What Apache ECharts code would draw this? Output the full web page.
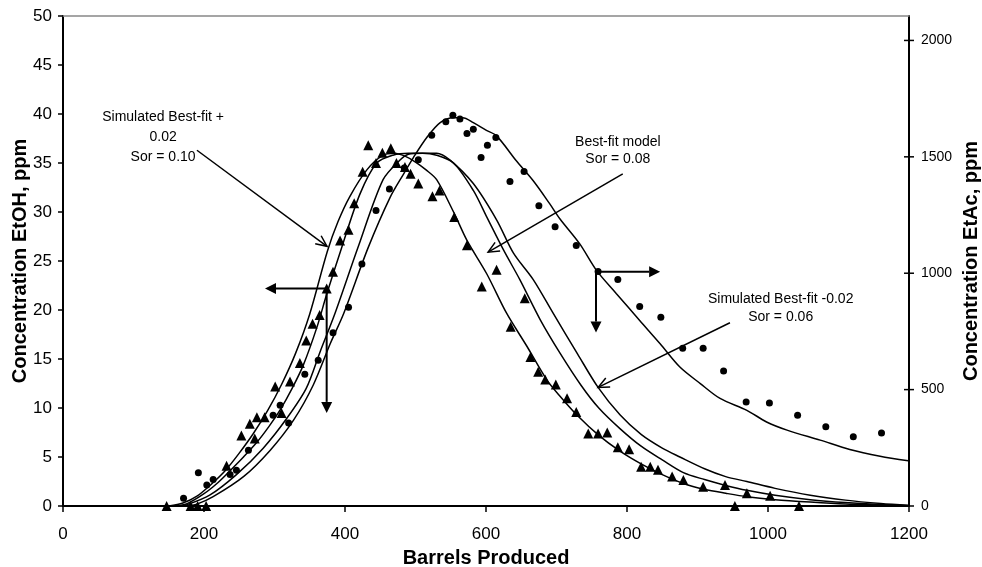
<!DOCTYPE html>
<html><head><meta charset="utf-8">
<script src="https://cdn.jsdelivr.net/npm/echarts@6/dist/echarts.min.js"></script>
<style>html,body{margin:0;padding:0;background:#fff}#c{width:982px;height:567px}</style>
</head><body><div id="c"></div>
<script>
// ---- tick labels ----
const xTickValues = [0,200,400,600,800,1000,1200];
const leftTickValues = [0,5,10,15,20,25,30,35,40,45,50];
const rightTickValues = [0,500,1000,1500,2000];

// ---- EtOH data (triangles, left axis) ----
const triX = [147,181,191,203,232,253,265,272,275,286,301,310,322,336,345,354,364,374,383,393,405,413,425,433,444,453,465,473,485,493,504,524,534,555,573,594,615,635,655,663,674,684,699,715,728,745,759,772,787,803,820,833,844,864,880,908,939,953,970,1003,1044];
const triY = [0,0,0,0,4.1,7.2,8.4,6.9,9.05,9.05,12.2,9.5,12.7,14.6,16.9,18.6,19.5,22.2,23.9,27.1,28.2,30.9,34.1,36.8,35.0,36.05,36.5,35.0,34.6,33.9,32.9,31.6,32.2,29.5,26.6,22.4,24.1,18.3,21.2,15.2,13.7,12.9,12.4,11.0,9.6,7.4,7.4,7.5,6.0,5.8,4.0,4.0,3.7,3.0,2.65,1.97,2.14,0,1.3,1.05,0];

// ---- EtAc data (circles, right axis) ----
const cirX = [171,192,204,213,237,246,263,298,308,320,343,362,383,405,424,444,463,484,504,523,543,553,563,573,582,593,602,614,634,654,675,698,728,759,787,818,848,879,908,937,969,1002,1042,1082,1121,1161];
const cirY = [33,143,90,114,135,154,240,390,433,357,566,626,744,854,1040,1269,1362,1452,1487,1593,1651,1679,1662,1600,1619,1497,1550,1583,1394,1437,1290,1200,1119,1007,973,857,811,678,678,580,447,443,390,340,297,314];

// ---- simulated EtOH, Sor = 0.10 ----
const s010X = [150,170,190,210,230,250,270,290,310,330,350,375,390,407,431,454,470,485,500,515,530,554,573,601,629,658,686,705,730,760,790,820,850,880,910,940,970,1010,1060,1110,1160,1200];
const s010Y = [0,0.3,1.0,2.2,3.6,5.4,7.4,9.7,12.4,15.6,19.6,26.0,29.0,31.6,34.3,35.8,36.0,35.7,35.1,34.3,33.3,30.0,27.1,23.7,19.7,16.3,12.9,11.2,9.2,7.2,5.6,4.3,3.2,2.3,1.7,1.3,0.95,0.65,0.4,0.2,0.1,0.02];

// ---- best-fit EtOH, Sor = 0.08 ----
const s008X = [160,175,199,220,237,256,275,292,308,325,341,360,374,395,421,445,468,490,510,530,554,582,601,625,648,677,705,735,760,790,820,850,880,910,940,970,1010,1060,1110,1160,1200];
const s008Y = [0,0.2,1.2,2.4,3.6,5.0,6.5,8.1,9.8,12.0,14.4,18.2,21.6,26.3,31.8,35.0,35.8,36.0,36.0,35.8,35.0,32.2,29.5,26.1,23.1,19.0,15.6,12.3,10.0,7.9,6.1,4.7,3.4,2.7,2.1,1.6,1.1,0.65,0.35,0.15,0.05];

// ---- simulated EtOH, Sor = 0.06 ----
const s006X = [165,175,208,246,284,317,345,365,386,419,454,478,490,510,530,549,582,615,639,667,695,730,759,790,820,850,875,910,940,970,1010,1060,1110,1160,1200];
const s006Y = [0,0.1,1.1,3.2,5.9,8.9,12.0,15.8,19.7,26.5,33.3,35.3,35.9,36.0,36.0,35.3,32.9,29.2,25.8,23.1,19.7,15.5,12.1,9.3,7.3,5.9,5.0,3.8,3.0,2.5,1.8,1.1,0.6,0.25,0.05];

// ---- model EtAc (right axis) ----
const acX = [175,190,213,256,294,327,355,379,398,433,464,483,497,516,535,554,567,582,600,615,643,667,690,705,733,757,785,818,847,875,904,932,970,998,1027,1074,1116,1159,1199];
const acY = [0,8,40,126,240,369,520,697,826,1111,1326,1426,1497,1583,1647,1668,1668,1647,1615,1590,1483,1397,1300,1233,1126,1011,912,797,697,597,526,462,411,361,326,283,243,214,194];

const zip = (a, b) => a.map((v, i) => [v, b[i]]);
const FONT = '"Liberation Sans", Arial, sans-serif';
const plain = v => String(v);
const rightLabel = v => (rightTickValues.indexOf(v) >= 0 ? String(v) : '');

const chart = echarts.init(document.getElementById('c'), null, {renderer: 'canvas'});

const lineSeries = (name, xs, ys, yIdx) => ({
  name, type: 'line', xAxisIndex: 0, yAxisIndex: yIdx, data: zip(xs, ys),
  showSymbol: false, smooth: 0.3, silent: true,
  lineStyle: {color: '#000', width: 1.5}, z: 3
});

chart.setOption({
  animation: false,
  backgroundColor: '#fff',
  grid: {left: 63, right: 73, top: 16, bottom: 61, containLabel: false, outerBoundsMode: 'none'},
  xAxis: [{
    type: 'value', min: 0, max: 1200, interval: 200, position: 'bottom',
    axisLine: {show: true, onZero: false, lineStyle: {color: '#000', width: 2}},
    axisTick: {show: true, inside: false, length: 6, lineStyle: {color: '#000', width: 1.5}},
    axisLabel: {color: '#000', fontSize: 17, fontFamily: FONT, margin: 20, formatter: plain},
    splitLine: {show: false},
    name: 'Barrels Produced', nameLocation: 'middle', nameGap: 42, nameMoveOverlap: false,
    nameTextStyle: {color: '#000', fontSize: 20, fontWeight: 'bold', fontFamily: FONT}
  }, {
    type: 'value', min: 0, max: 1200, position: 'top',
    axisLine: {show: true, onZero: false, lineStyle: {color: '#888', width: 1.5}},
    axisTick: {show: false}, axisLabel: {show: false}, splitLine: {show: false}
  }],
  yAxis: [{
    type: 'value', min: 0, max: 50, interval: 5, position: 'left',
    axisLine: {show: true, onZero: false, lineStyle: {color: '#000', width: 2}},
    axisTick: {show: true, inside: false, length: 5, lineStyle: {color: '#000', width: 1.5}},
    axisLabel: {color: '#000', fontSize: 17, fontFamily: FONT, margin: 11, formatter: plain},
    splitLine: {show: false},
    name: 'Concentration EtOH, ppm', nameLocation: 'middle', nameGap: 33, nameRotate: 90, nameMoveOverlap: false,
    nameTextStyle: {color: '#000', fontSize: 20, fontWeight: 'bold', fontFamily: FONT}
  }, {
    type: 'value', min: 0, max: 2105, interval: 500, position: 'right',
    axisLine: {show: true, onZero: false, lineStyle: {color: '#000', width: 2}},
    axisTick: {show: false},
    axisLabel: {color: '#000', fontSize: 14, fontFamily: FONT, margin: 12, formatter: rightLabel, showMaxLabel: false},
    splitLine: {show: false},
    name: 'Concentration EtAc, ppm', nameLocation: 'middle', nameGap: 52, nameRotate: 90, nameMoveOverlap: false,
    nameTextStyle: {color: '#000', fontSize: 20, fontWeight: 'bold', fontFamily: FONT}
  }],
  series: [
    lineSeries('Sor 0.10', s010X, s010Y, 0),
    lineSeries('Sor 0.08', s008X, s008Y, 0),
    lineSeries('Sor 0.06', s006X, s006Y, 0),
    lineSeries('EtAc model', acX, acY, 1),
    {name: 'EtOH', type: 'scatter', xAxisIndex: 0, yAxisIndex: 0, data: zip(triX, triY),
     symbol: 'triangle', symbolSize: 10, itemStyle: {color: '#000', opacity: 1}, z: 4},
    {name: 'EtAc', type: 'scatter', xAxisIndex: 0, yAxisIndex: 1, data: zip(cirX, cirY),
     symbol: 'circle', symbolSize: 7, itemStyle: {color: '#000', opacity: 1}, z: 4}
  ]
});

// ---- annotations (data coordinates, left axis) ----
const notes = [
  {text: 'Simulated Best-fit +\n0.02\nSor = 0.10', at: [142, 37.6], lh: 20},
  {text: 'Best-fit model\nSor = 0.08', at: [787, 36.3], lh: 17},
  {text: 'Simulated Best-fit -0.02\nSor = 0.06', at: [1018, 20.2], lh: 18}
];
const openArrows = [
  {from: [190, 36.3], to: [374.5, 26.5]},
  {from: [794, 33.9], to: [603, 25.9]},
  {from: [946, 18.7], to: [759, 12.1]}
];
const solidArrows = [
  {from: [374, 22.2], to: [286.5, 22.2]},
  {from: [374, 22.2], to: [374, 9.5]},
  {from: [756, 23.9], to: [847, 23.9]},
  {from: [756, 23.9], to: [756, 17.7]}
];

const px = p => chart.convertToPixel({gridIndex: 0}, p);
const g = [];
notes.forEach(n => {
  const p = px(n.at);
  g.push({type: 'text', x: p[0], y: p[1], z: 10, style: {
    text: n.text, fill: '#000', font: '14px ' + FONT, align: 'center', verticalAlign: 'middle', lineHeight: n.lh}});
});
function head(a, b, L, W) {
  const dx = b[0] - a[0], dy = b[1] - a[1], len = Math.hypot(dx, dy);
  const ux = dx / len, uy = dy / len, qx = -uy, qy = ux;
  const bx = b[0] - L * ux, by = b[1] - L * uy;
  return {base: [bx, by], l: [bx + W * qx, by + W * qy], r: [bx - W * qx, by - W * qy]};
}
openArrows.forEach(a => {
  const s = px(a.from), t = px(a.to), h = head(s, t, 11, 5);
  g.push({type: 'line', z: 10, shape: {x1: s[0], y1: s[1], x2: t[0], y2: t[1]}, style: {stroke: '#000', lineWidth: 1.5}});
  g.push({type: 'polyline', z: 10, shape: {points: [h.l, t, h.r]}, style: {stroke: '#000', lineWidth: 1.5, fill: null}});
});
solidArrows.forEach(a => {
  const s = px(a.from), t = px(a.to), h = head(s, t, 11, 5.5);
  g.push({type: 'line', z: 10, shape: {x1: s[0], y1: s[1], x2: h.base[0], y2: h.base[1]}, style: {stroke: '#000', lineWidth: 2}});
  g.push({type: 'polygon', z: 10, shape: {points: [t, h.l, h.r]}, style: {fill: '#000'}});
});
// crossing ticks on the right axis
const xRight = chart.convertToPixel({xAxisIndex: 0}, 1200);
rightTickValues.forEach(v => {
  const y = chart.convertToPixel({yAxisIndex: 1}, v);
  g.push({type: 'line', z: 10, shape: {x1: xRight - 5, y1: y, x2: xRight + 5, y2: y}, style: {stroke: '#000', lineWidth: 1.5}});
});
chart.setOption({graphic: g});
</script>
</body></html>
